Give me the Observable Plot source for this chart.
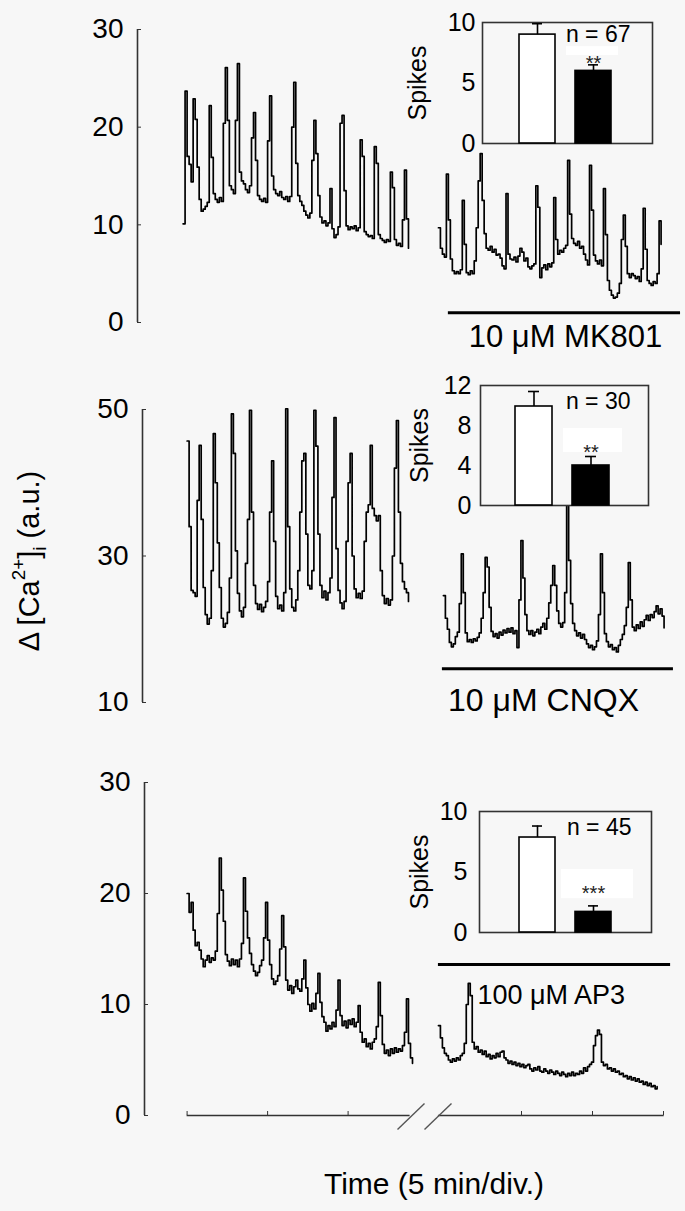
<!DOCTYPE html>
<html>
<head>
<meta charset="utf-8">
<script src="https://cdn.jsdelivr.net/npm/d3@7"></script>
<script src="https://cdn.jsdelivr.net/npm/@observablehq/plot@0.6"></script>
<style>
  html, body { margin: 0; padding: 0; background: #f7f7f7; }
  #fig { position: relative; width: 685px; height: 1211px; background: #f7f7f7; overflow: hidden;
         font-family: "Liberation Sans", Arial, Helvetica, sans-serif; }
</style>
</head>
<body>
<div id="fig"></div>
<script>
// ---------------- DATA ----------------
// sampling interval of the recordings (minutes per sample)
const ctrlDt = 0.125;
const drugDt = 0.14;
// start time of each trace (min)
const ctrlStart = [-0.25, 0, 0];
const drugStart = [19.15, 19.5, 19.15];

// Δ[Ca2+]i traces (a.u.), control period then drug period
const mk801Ctrl = [10.1,23.7,17.0,16.2,14.4,22.9,20.8,15.9,12.6,11.4,
  11.6,11.9,12.3,22.2,16.9,13.2,12.6,12.3,12.8,12.4,
  20.4,26.1,20.7,14.0,13.6,13.2,20.7,26.5,15.4,14.5,
  14.2,13.6,13.3,14.0,18.9,21.5,16.6,13.0,12.6,12.4,
  12.7,12.3,18.6,23.2,15.0,13.6,13.2,13.0,13.4,12.8,
  12.6,12.9,12.4,12.9,20.0,24.6,16.3,13.0,12.4,12.0,
  11.4,11.0,10.7,11.2,16.6,20.7,17.3,13.0,10.8,10.2,
  10.4,9.9,10.2,13.7,9.6,8.7,9.0,9.8,20.4,21.2,
  13.5,9.9,9.5,9.8,9.6,9.9,9.4,9.7,18.7,17.0,
  9.3,9.0,8.8,8.9,8.6,18.0,16.3,9.0,8.6,8.4,
  8.2,8.5,8.3,15.4,13.8,8.5,7.9,8.1,7.8,10.5,
  15.6,10.6,7.6];
const mk801Drug = [9.7,7.6,7.0,6.7,15.2,10.5,6.5,5.3,5.0,5.2,
  5.0,5.4,12.5,8.0,5.1,4.9,5.3,5.0,6.3,9.7,
  14.5,17.3,12.5,9.1,7.6,7.4,7.8,7.2,7.5,6.9,
  7.0,6.6,5.8,5.5,13.2,7.0,6.5,6.4,6.7,6.2,
  6.8,7.6,7.2,6.3,6.6,5.7,5.5,5.8,6.0,14.0,
  11.8,4.6,5.6,5.9,5.4,6.0,5.7,6.1,12.8,8.5,
  7.0,7.4,7.2,7.6,7.9,16.6,11.1,8.6,8.1,7.9,
  8.3,7.6,7.8,7.0,6.4,5.9,16.1,11.5,6.9,6.3,
  6.0,6.4,5.8,13.7,9.0,4.3,3.3,2.8,2.5,2.6,
  3.0,4.0,8.5,11.0,7.8,5.0,4.6,5.0,4.8,4.5,
  4.7,4.2,5.5,11.7,7.5,4.3,4.0,3.8,4.2,4.0,
  5.0,10.4,8.0];
const cnqxCtrl = [45.7,34,25.3,25.0,24.5,37.6,45.1,35,25.7,22,
  20.7,21.5,28,46.7,40,31.8,25.7,21.5,20.3,20.8,
  22.3,27,49.4,44,30.7,24.9,22.5,21.7,23.0,29,
  35,49.9,36,26,23.5,22.7,23.4,22.4,23.0,23.8,
  26.5,36,43,32,24.5,22.8,23.3,22.5,25,50.1,
  34,25.5,23.0,22.5,24.0,28,36,43,44,33,
  26,25.5,28,49.9,45,33,26,24.3,25.2,24.0,
  25.0,27,38,48.9,31,25.3,23.6,22.8,23.8,32,
  40,44,30,25.5,24.3,24.9,24.2,25.2,32,36,
  37,45.1,36.5,35.5,34.8,35.5,28,24.6,23.5,24.2,
  23.3,24.0,30,42,48.5,36,29,26.5,25.5,25.0,
  23.8];
const cnqxDrug = [24.6,21.5,20.0,18.2,17.6,18.0,19.0,19.6,23.5,30.3,
  25,19.5,18.3,18.6,18.2,18.7,18.4,18.9,19.5,21.5,
  25,29.8,28.5,23,19.7,19.0,19.4,18.8,19.6,19.2,
  19.9,19.5,20.1,19.6,20.2,19.4,19.8,17.5,24,32.1,
  27,22,19.8,19.3,19.8,19.1,19.6,20.0,19.4,20.3,
  20.8,20.0,21.5,23.6,26,28.7,26,22.5,20.8,20.3,
  20.9,25,42,29.4,23.5,20.8,19.8,19.1,19.5,18.8,
  19.3,18.6,18.0,17.5,17.8,17.2,17.6,18.4,22,30.3,
  25,19.4,18.3,17.6,17.9,17.2,17.5,16.9,17.8,18.6,
  19.3,20.5,23,29.1,24,20.3,19.8,20.6,20.1,21.0,
  20.4,21.3,21.9,21.2,22.0,21.6,22.4,23.2,22.1,22.8,
  21.8,20.2];
const ap3Ctrl = [20.0,18.3,19.2,16.7,15.3,15.6,14.9,14.1,13.4,14.0,
  14.4,13.8,14.2,14.0,14.8,18.2,23.2,20.3,17.5,14.5,
  13.9,13.5,14.1,13.6,14.0,13.4,14.1,15.5,21.4,18.4,
  16.0,14.6,13.6,13.0,12.6,12.9,13.5,14.0,16.0,19.2,
  15.8,13.6,12.3,11.8,12.1,12.6,15.0,18.0,15.2,12.2,
  11.3,11.7,11.0,11.6,12.2,11.4,11.2,12.3,14.0,11.5,
  10.0,9.4,10.1,9.6,11.0,12.8,10.2,8.9,8.4,7.6,
  8.1,7.8,8.4,8.0,9.5,12.2,9.0,8.1,8.5,7.9,
  8.6,8.2,8.7,8.0,8.4,9.9,7.5,6.6,6.9,6.2,
  6.5,6.0,6.6,6.9,8.0,12.0,9.0,6.4,5.6,5.9,
  5.4,6.0,5.6,6.1,5.7,6.0,5.8,6.3,7.5,10.5,
  6.5,5.2,4.7];
const ap3Drug = [8.1,7.0,6.1,5.6,5.4,5.0,4.8,5.1,4.9,5.2,
  5.0,5.4,5.6,6.5,10.0,11.9,10.8,6.6,6.0,6.2,
  5.7,5.9,5.5,5.8,5.3,5.5,5.1,5.4,5.2,5.6,
  5.3,5.7,5.8,5.2,5.0,4.7,4.9,4.6,4.8,4.5,
  4.7,4.4,4.6,4.3,4.5,4.6,4.2,4.0,4.3,4.1,
  4.4,4.0,3.9,4.2,4.0,3.8,4.1,3.9,3.7,4.0,
  3.8,3.6,3.9,3.7,3.5,3.8,3.6,3.9,3.6,3.8,
  3.7,4.0,3.8,4.3,4.0,4.4,4.6,4.8,6.3,7.2,
  7.7,7.3,4.8,4.5,4.6,4.2,4.3,4.0,4.2,3.9,
  4.0,3.7,3.8,3.5,3.6,3.3,3.5,3.2,3.4,3.1,
  3.3,3.0,3.1,2.8,3.0,2.7,2.9,2.6,2.7,2.4,
  2.6];

// y axes of the traces
const yDomainMK801 = [0, 30], yTicksMK801 = [0, 10, 20, 30];
const yDomainCNQX = [10, 50], yTicksCNQX = [10, 30, 50];
const yDomainAP3 = [0, 30], yTicksAP3 = [0, 10, 20, 30];

// drug application (min) and labels
const drugLabels = ["10 μM MK801", "10 μM CNQX", "100 μM AP3"];
const drugOn = [19.85, 19.43, 19.15];
const drugOff = [36.2, 35.7, 35.5];

// time axis ticks (5 min / div)
const timeTicksCtrl = [0, 5, 10];
const timeTicksDrug = [25, 30, 35];

// inset bar charts: spikes per period
const barGroups = ["Control", "Drug"];
const spikesMean = [[9.0, 6.0], [9.9, 4.0], [7.85, 1.7]];
const spikesSem = [[0.9, 0.5], [1.5, 0.9], [0.95, 0.5]];
const nCells = [67, 30, 45];
const sigMarks = ["**", "**", "***"];
const insetMax = [10, 12, 10];
const insetTicksMK801 = [0, 5, 10], insetTicksCNQX = [0, 4, 8, 12], insetTicksAP3 = [0, 5, 10];

// ---------------- LAYOUT / STYLE ----------------
const W = 685, H = 1211;
const BG = "#f7f7f7";
const AXIS = "#333333";
const FONT = "'Liberation Sans', Arial, Helvetica, sans-serif";
const TRACE_W = 1.7;
const ctrlRange = [186.6, 347.6];   // pixels of 0 and 10 min, control segment
const drugRange = [521, 663];       // pixels of 25 and 35 min, drug segment
const ctrlScale = d3.scaleLinear().domain([0, 10]).range(ctrlRange);

const traces = [[mk801Ctrl, mk801Drug], [cnqxCtrl, cnqxDrug], [ap3Ctrl, ap3Drug]];
const yDomains = [yDomainMK801, yDomainCNQX, yDomainAP3];
const yTicksAll = [yTicksMK801, yTicksCNQX, yTicksAP3];
const insetTicksAll = [insetTicksMK801, insetTicksCNQX, insetTicksAP3];

const layout = [
  {axisX: 137, yTop: 29, yBot: 322, barLevel: 1.0, labelT: 28.1, labelV: -1.5, labelSize: 31,
   inset: {l: 482, r: 652, t: 22, b: 143}, bars: [537, 593.5], bw: 36, tickPad: 7, labelOffset: 74,
   nDx: -22, nDy: 3, rectIn: [-9, -7], rectY: [7.27, 8.0], sigY: 7.0},
  {axisX: 142, yTop: 409, yBot: 702, barLevel: 14.6, labelT: 26.55, labelV: 10.27, labelSize: 32,
   inset: {l: 480, r: 648, t: 385, b: 505}, bars: [533.5, 590.5], bw: 37, tickPad: 9, labelOffset: 70,
   nDx: -18, nDy: 7, rectIn: [-9, -13], rectY: [5.3, 7.7], sigY: 5.8},
  {axisX: 144, yTop: 782, yBot: 1115, barLevel: 13.6, labelT: 27.1, labelV: 10.8, labelSize: 27,
   inset: {l: 479, r: 651, t: 811, b: 932}, bars: [537, 593.5], bw: 36, tickPad: 12, labelOffset: 69,
   nDx: -20, nDy: 7, rectIn: [-14, -22], rectY: [2.8, 5.2], sigY: 3.6}
];

const fig = document.getElementById("fig");
const style = {background: "transparent", fontFamily: FONT, color: "black", overflow: "visible"};
function mount(svg) {
  svg.style.position = "absolute";
  svg.style.left = "0px";
  svg.style.top = "0px";
  fig.appendChild(svg);
}

const insets = [];
layout.forEach((L, p) => {
  const [d0, d1] = yDomains[p];
  const ctrlData = traces[p][0].map((v, i) => ({t: ctrlStart[p] + i * ctrlDt, v}));
  const drugData = traces[p][1].map((v, i) => ({t: drugStart[p] + i * drugDt, v}));
  const bottom = p === 2;
  const frameOpts = {width: W, height: H, marginLeft: L.axisX, marginRight: 0,
                     marginTop: L.yTop, marginBottom: H - L.yBot, style};

  // control segment with y axis
  const ctrlMarks = [
    Plot.ruleX([ctrlScale.invert(L.axisX)], {y1: d0, y2: d1, stroke: AXIS, strokeWidth: 1.6}),
    Plot.axisY({ticks: yTicksAll[p], tickSize: -4, tickPadding: 18, fontSize: 28, label: null,
                stroke: AXIS, fill: "black", tickFormat: d => String(d)}),
    Plot.lineY(ctrlData, {x: "t", y: "v", curve: "step-after", stroke: "black", strokeWidth: TRACE_W})
  ];
  if (bottom) {
    const tEnd = ctrlScale.invert(409.6);
    ctrlMarks.push(
      Plot.ruleY([0], {x1: 0, x2: tEnd, stroke: AXIS, strokeWidth: 1.6}),
      Plot.axisX({ticks: timeTicksCtrl, anchor: "bottom", tickSize: -4, tickFormat: () => "", stroke: AXIS, label: null}),
      Plot.link([{a: ctrlScale.invert(397), b: ctrlScale.invert(424)}],
                {x1: "a", x2: "b", y1: -1.26, y2: 1.08, stroke: "#555", strokeWidth: 1.4})
    );
  }
  mount(Plot.plot({...frameOpts,
    x: bottom ? {domain: [0, 10], range: ctrlRange} : {domain: [0, 10], range: ctrlRange, axis: null},
    y: {domain: [d0, d1]},
    marks: ctrlMarks}));

  // drug segment
  const dScale = d3.scaleLinear().domain([25, 35]).range(drugRange);
  const drugMarks = [
    Plot.lineY(drugData, {x: "t", y: "v", curve: "step-after", stroke: "black", strokeWidth: TRACE_W}),
    Plot.ruleY([{v: L.barLevel, a: drugOn[p], b: drugOff[p]}], {y: "v", x1: "a", x2: "b", stroke: "black", strokeWidth: 3}),
    Plot.text([{t: L.labelT, v: L.labelV, s: drugLabels[p]}],
              {x: "t", y: "v", text: "s", fontSize: L.labelSize, fill: "black", lineAnchor: "middle"})
  ];
  if (bottom) {
    drugMarks.push(
      Plot.ruleY([0], {x1: drugStart[p], x2: 35.05, stroke: AXIS, strokeWidth: 1.6}),
      Plot.axisX({ticks: timeTicksDrug, anchor: "bottom", tickSize: -4, tickFormat: () => "", stroke: AXIS, label: null}),
      Plot.link([{a: dScale.invert(424), b: dScale.invert(451)}],
                {x1: "a", x2: "b", y1: -1.26, y2: 1.08, stroke: "#555", strokeWidth: 1.4})
    );
  }
  mount(Plot.plot({...frameOpts,
    x: bottom ? {domain: [25, 35], range: drugRange} : {domain: [25, 35], range: drugRange, axis: null},
    y: {domain: [d0, d1], axis: null},
    marks: drugMarks}));

  // inset bar chart
  const I = L.inset;
  const step = L.bars[1] - L.bars[0];
  const pin = 1 - L.bw / step;
  const bars = barGroups.map((g, j) => ({g, m: spikesMean[p][j], e: spikesSem[p][j]}));
  insets.push(Plot.plot({
    width: W, height: H, marginLeft: I.l, marginRight: W - I.r, marginTop: I.t, marginBottom: H - I.b, style,
    x: {type: "band", domain: barGroups, range: [L.bars[0] - step / 2, L.bars[1] + step / 2],
        paddingInner: pin, paddingOuter: pin / 2, axis: null},
    y: {domain: [0, insetMax[p]]},
    marks: [
      Plot.frame({fill: BG, stroke: AXIS, strokeWidth: 1.6}),
      Plot.barY([bars[1]], {x: "g", y1: L.rectY[0], y2: L.rectY[1], fill: "white",
                            insetLeft: L.rectIn[0], insetRight: L.rectIn[1]}),
      Plot.barY([bars[0]], {x: "g", y: "m", fill: "white", stroke: "black", strokeWidth: 1.6}),
      Plot.barY([bars[1]], {x: "g", y: "m", fill: "black", stroke: "black", strokeWidth: 1.6}),
      Plot.ruleX(bars, {x: "g", y1: "m", y2: d => d.m + d.e, stroke: "black", strokeWidth: 1.6}),
      Plot.tickY(bars, {x: "g", y: d => d.m + d.e, insetLeft: 13, insetRight: 13, stroke: "black", strokeWidth: 1.6}),
      Plot.text([bars[1]], {x: "g", y: () => L.sigY, text: () => sigMarks[p], fontSize: 20, dy: 5, fill: "#222"}),
      Plot.text([`n = ${nCells[p]}`], {frameAnchor: "top-right", textAnchor: "end", lineAnchor: "top",
                                      dx: L.nDx, dy: L.nDy, fontSize: 23, fill: "black"}),
      Plot.axisY({ticks: insetTicksAll[p], tickSize: 0, tickPadding: L.tickPad, fontSize: 25,
                  label: "Spikes", labelAnchor: "center", labelOffset: L.labelOffset, labelArrow: "none",
                  fill: "black", tickFormat: d => String(d)})
    ]
  }));
});
insets.forEach(mount);

// axis titles
const titles = d3.create("svg").attr("width", W).attr("height", H)
  .style("position", "absolute").style("left", "0px").style("top", "0px")
  .style("font-family", FONT).style("overflow", "visible");
const yt = titles.append("text")
  .attr("transform", "translate(29,561) rotate(-90)")
  .attr("text-anchor", "middle").attr("dominant-baseline", "central")
  .attr("font-size", 29).attr("fill", "black");
yt.append("tspan").text("Δ [Ca");
yt.append("tspan").attr("baseline-shift", "super").attr("font-size", "65%").text("2+");
yt.append("tspan").text("]");
yt.append("tspan").attr("baseline-shift", "sub").attr("font-size", "65%").text("i");
yt.append("tspan").text(" (a.u.)");
titles.append("text").attr("x", 434).attr("y", 1183)
  .attr("text-anchor", "middle").attr("dominant-baseline", "central")
  .attr("font-size", 30).attr("fill", "black").text("Time (5 min/div.)");
fig.appendChild(titles.node());
</script>
</body>
</html>
